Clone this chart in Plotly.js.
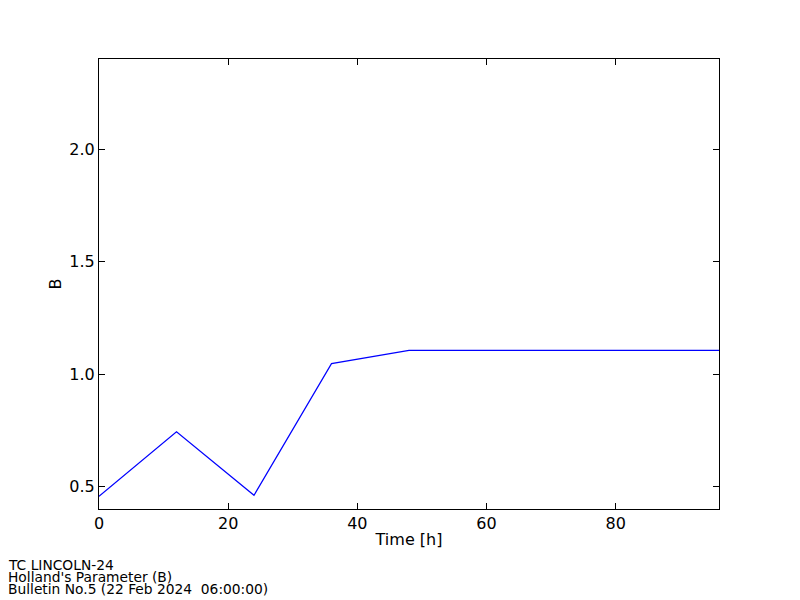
<!DOCTYPE html>
<html>
<head>
<meta charset="utf-8">
<script src="https://cdn.plot.ly/plotly-3.0.1.min.js"></script>
<style>body{margin:0;padding:0;background:#fff;} #chart{width:800px;height:600px;}</style>
</head>
<body>
<div id="chart"></div>
<script>
const hours = [0, 12, 24, 36, 48, 60, 72, 84, 96];
const hollandB = [0.456, 0.743, 0.461, 1.046, 1.105, 1.105, 1.105, 1.105, 1.105];
const yTickVals = [0.5, 1.0, 1.5, 2.0];
const yTickText = ["0.5", "1.0", "1.5", "2.0"];
const footerLines = ["TC LINCOLN-24", "Holland's Parameter (B)", "Bulletin No.5 (22 Feb 2024 \u00a006:00:00)"];

const font = "DejaVu Sans, sans-serif";
const trace = {
  x: hours, y: hollandB, type: "scatter", mode: "lines",
  line: {color: "#0000ff", width: 1.2}, hoverinfo: "none"
};
const axisCommon = {
  showline: true, linecolor: "#000", linewidth: 1, mirror: "ticks",
  ticks: "inside", ticklen: 6, tickwidth: 1, tickcolor: "#000",
  showgrid: false, zeroline: false,
  tickfont: {family: font, size: 16, color: "#000"}
};
const layout = {
  width: 800, height: 600,
  margin: {l: 99, r: 81, t: 59, b: 91, pad: 0},
  paper_bgcolor: "#fff", plot_bgcolor: "#fff",
  showlegend: false,
  xaxis: Object.assign({}, axisCommon, {
    range: [0, 96], tickmode: "linear", tick0: 0, dtick: 20,
    title: {text: "Time [h]", font: {family: font, size: 16, color: "#000"}, standoff: 1}
  }),
  yaxis: Object.assign({}, axisCommon, {
    range: [0.4, 2.4], tickmode: "array", tickvals: yTickVals, ticktext: yTickText,
    title: {text: "B", font: {family: font, size: 16, color: "#000"}, standoff: 3}
  }),
  annotations: footerLines.map((t, i) => ({
    text: t, xref: "paper", yref: "paper",
    x: (7 - 99) / 620, y: (509 - (565 + i * 12)) / 450,
    xanchor: "left", yanchor: "middle", showarrow: false, borderpad: 0,
    font: {family: font, size: 13.8, color: "#000"}
  }))
};
Plotly.newPlot("chart", [trace], layout, {staticPlot: true, displayModeBar: false});
</script>
</body>
</html>
